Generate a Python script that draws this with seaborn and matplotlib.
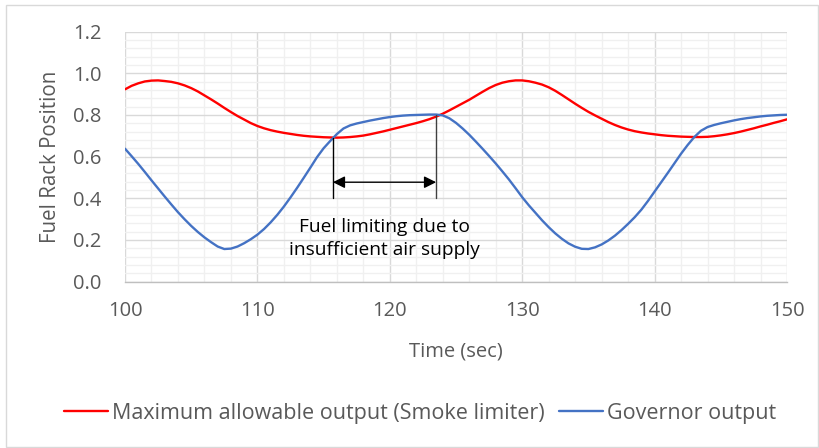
import matplotlib
matplotlib.use("Agg")
import matplotlib.pyplot as plt
from matplotlib.ticker import MultipleLocator
import seaborn as sns
import pandas as pd

# Time axis (seconds), sampled every half second
time_s = [100 + 0.5 * i for i in range(101)]

# Smoke limiter: maximum allowable fuel rack position
smoke_limit = [
    0.923, 0.940, 0.952, 0.961, 0.965, 0.966, 0.963, 0.959, 0.952, 0.942,
    0.929, 0.913, 0.894, 0.875, 0.855, 0.834, 0.814, 0.795, 0.778, 0.761,
    0.747, 0.736, 0.727, 0.720, 0.714, 0.709, 0.704, 0.700, 0.697, 0.695,
    0.693, 0.692, 0.691, 0.692, 0.694, 0.697, 0.701, 0.707, 0.714, 0.721,
    0.729, 0.737, 0.745, 0.753, 0.761, 0.770, 0.780, 0.792, 0.806, 0.822,
    0.839, 0.856, 0.873, 0.892, 0.911, 0.929, 0.944, 0.955, 0.962, 0.966,
    0.966, 0.962, 0.955, 0.946, 0.933, 0.916, 0.896, 0.875, 0.854, 0.834,
    0.815, 0.798, 0.782, 0.766, 0.752, 0.740, 0.730, 0.722, 0.716, 0.711,
    0.707, 0.703, 0.700, 0.698, 0.696, 0.695, 0.694, 0.694, 0.695, 0.698,
    0.702, 0.707, 0.713, 0.720, 0.728, 0.736, 0.745, 0.753, 0.762, 0.770,
    0.779,
]

# Governor demanded fuel rack position
governor = [
    0.638, 0.602, 0.565, 0.526, 0.486, 0.447, 0.408, 0.370, 0.333, 0.299,
    0.267, 0.238, 0.212, 0.189, 0.168, 0.156, 0.158, 0.168, 0.184, 0.203,
    0.225, 0.252, 0.284, 0.320, 0.360, 0.404, 0.450, 0.498, 0.547, 0.597,
    0.640, 0.675, 0.708, 0.735, 0.750, 0.759, 0.766, 0.773, 0.779, 0.785,
    0.790, 0.794, 0.797, 0.799, 0.800, 0.801, 0.802, 0.802, 0.798, 0.784,
    0.762, 0.735, 0.705, 0.672, 0.638, 0.603, 0.567, 0.529, 0.490, 0.448,
    0.405, 0.366, 0.330, 0.294, 0.261, 0.231, 0.205, 0.183, 0.167, 0.157,
    0.156, 0.164, 0.178, 0.197, 0.220, 0.247, 0.277, 0.309, 0.345, 0.387,
    0.432, 0.477, 0.522, 0.568, 0.614, 0.656, 0.694, 0.724, 0.742, 0.752,
    0.760, 0.767, 0.774, 0.780, 0.785, 0.789, 0.793, 0.796, 0.798, 0.800,
    0.801,
]

series_names = ["Maximum allowable output (Smoke limiter)", "Governor output"]
series_colors = ["#ff0000", "#4472c4"]

# Fuel-limiting interval (start, end) and arrow height
limit_start, limit_end = 115.7, 123.5
limit_start_top, limit_end_top = 0.69, 0.80
limit_bottom = 0.40
arrow_level = 0.477
note_text = "Fuel limiting due to\ninsufficient air supply"

df = pd.concat([
    pd.DataFrame({"Time": time_s, "Value": smoke_limit, "Series": series_names[0]}),
    pd.DataFrame({"Time": time_s, "Value": governor, "Series": series_names[1]}),
])

sns.set_theme(style="white")
plt.rcParams["font.family"] = ["Open Sans", "DejaVu Sans"]
text_gray = "#595959"

W, H = 819, 448
fig = plt.figure(figsize=(W / 100, H / 100), dpi=100)
ax = fig.add_axes([125 / W, (H - 281.5) / H, (787 - 125) / W, (281.5 - 31.7) / H])

sns.lineplot(data=df, x="Time", y="Value", hue="Series", palette=series_colors,
             linewidth=1.7, ax=ax, legend=False, zorder=3)

ax.set_xlim(100, 150)
ax.set_ylim(0, 1.2)
ax.xaxis.set_major_locator(MultipleLocator(10))
ax.xaxis.set_minor_locator(MultipleLocator(2))
ax.yaxis.set_major_locator(MultipleLocator(0.2))
ax.yaxis.set_minor_locator(MultipleLocator(0.04))
ax.grid(which="major", color="#d9d9d9", linewidth=1.0, zorder=1)
ax.grid(which="minor", color="#f0f0f0", linewidth=1.0, zorder=0)
ax.set_axisbelow(True)
for side in ["top", "right", "left"]:
    ax.spines[side].set_visible(False)
ax.spines["bottom"].set_color("#bfbfbf")
ax.spines["bottom"].set_linewidth(1.0)

ax.set_yticklabels([f"{v:.1f}" for v in ax.get_yticks()])
ax.tick_params(axis="both", which="both", length=0, labelsize=14.5, colors=text_gray)
ax.tick_params(axis="x", pad=14)
ax.tick_params(axis="y", pad=17)
ax.set_xlabel("Time (sec)", fontsize=14.5, color=text_gray)
ax.set_ylabel("Fuel Rack Position", fontsize=14.8, color=text_gray)
ax.xaxis.set_label_coords(0.5, -0.242)
ax.yaxis.set_label_coords(-0.097, 0.5)

# Annotation: bracket lines and double-headed arrow
ax.plot([limit_start, limit_start], [limit_start_top, limit_bottom], color="black", lw=1.0, zorder=4)
ax.plot([limit_end, limit_end], [limit_end_top, limit_bottom], color="#404040", lw=1.0, zorder=4)
ax.annotate("", xy=(limit_start, arrow_level), xytext=(limit_end, arrow_level),
            arrowprops=dict(arrowstyle="<|-|>", color="black", lw=1.0,
                            mutation_scale=18, shrinkA=0, shrinkB=0), zorder=4)
ax.text(119.6, 0.207, note_text, ha="center", va="center", fontsize=13.8,
        color="black", linespacing=1.4)

# Legend along the bottom
handles = [plt.Line2D([], [], color=c, lw=1.7) for c in series_colors]
fig.legend(handles, series_names, loc="center", bbox_to_anchor=(420 / W, 1 - 413 / H),
           ncol=2, frameon=False, fontsize=15.5, labelcolor=text_gray,
           handlelength=2.05, handletextpad=0.15, columnspacing=0.7)

# Light chart border
fig.add_artist(plt.Rectangle((6 / W, 1 / H), (812 / W), (442 / H), transform=fig.transFigure,
                             fill=False, edgecolor="#d9d9d9", lw=1.0))

fig.savefig("out.png", dpi=100)
